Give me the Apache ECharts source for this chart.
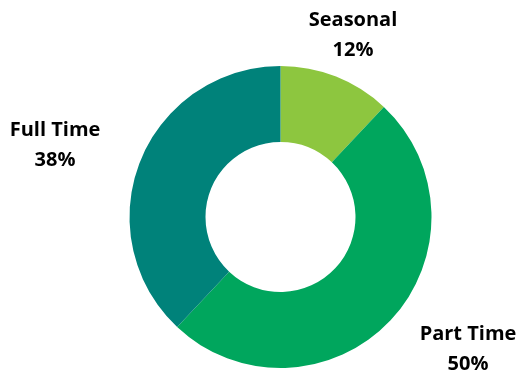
<!DOCTYPE html>
<html><head><meta charset="utf-8">
<script src="https://cdn.jsdelivr.net/npm/echarts@6/dist/echarts.min.js"></script>
<style>html,body{margin:0;padding:0;background:#fff}#c{width:519px;height:374px}</style>
</head><body><div id="c"></div>
<script>
var categories = ['Seasonal', 'Part Time', 'Full Time'];
var values = [12, 50, 38];
var colors = ['#8dc63f', '#00a65d', '#00827a'];
var labelPos = [[353, 35], [468, 349], [55, 145]];

var chart = echarts.init(document.getElementById('c'));
chart.setOption({
  animation: false,
  series: [{
    type: 'pie',
    center: [280.5, 217],
    radius: [75, 151],
    startAngle: 90,
    clockwise: true,
    silent: true,
    data: categories.map(function (n, i) {
      return { name: n, value: values[i], itemStyle: { color: colors[i] } };
    }),
    label: {
      show: true,
      position: 'outside',
      formatter: '{b}\n{c}%',
      fontFamily: 'Open Sans',
      fontWeight: 'bold',
      fontSize: 20,
      lineHeight: 30,
      color: '#000',
      align: 'center',
      overflow: 'none'
    },
    labelLine: { show: false },
    labelLayout: function (p) {
      var pos = labelPos[p.dataIndex];
      return { x: pos[0], y: pos[1], align: 'center', verticalAlign: 'middle' };
    }
  }]
});
</script></body></html>
